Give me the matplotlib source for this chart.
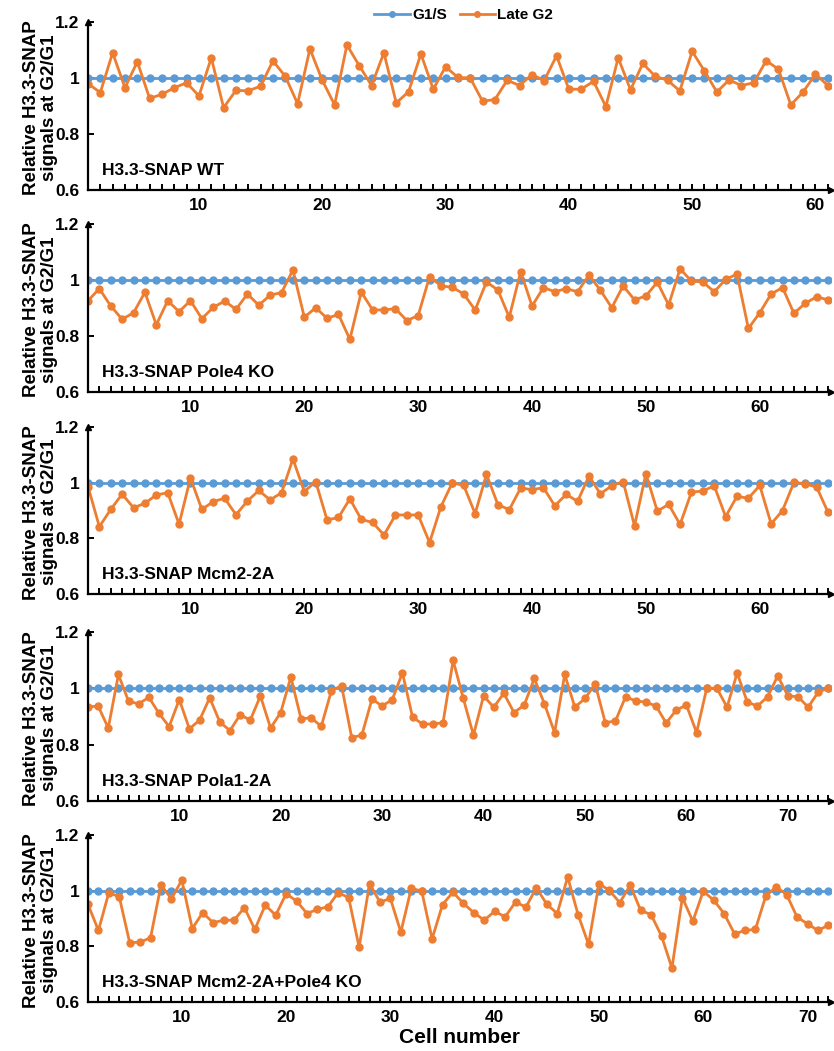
import matplotlib
matplotlib.use("Agg")
import matplotlib.pyplot as plt
import numpy as np
from matplotlib.ticker import MultipleLocator, FixedLocator

plt.rcParams['font.family'] = ['Liberation Sans', 'DejaVu Sans']
plt.rcParams['font.weight'] = 'bold'

BLUE = '#5B9BD5'
ORANGE = '#ED7D31'

# Late G2 relative signals per cell (G1/S normalised to 1)
wt = [0.980, 0.948, 1.090, 0.965, 1.058, 0.927, 0.942, 0.965, 0.983, 0.936,
      1.072, 0.894, 0.956, 0.954, 0.971, 1.061, 1.006, 0.908, 1.104, 0.992,
      0.904, 1.118, 1.044, 0.973, 1.090, 0.911, 0.951, 1.086, 0.960, 1.040,
      1.002, 1.000, 0.917, 0.923, 0.992, 0.973, 1.012, 0.991, 1.079, 0.960,
      0.960, 0.988, 0.898, 1.072, 0.958, 1.052, 1.006, 0.992, 0.954, 1.095,
      1.025, 0.950, 0.993, 0.973, 0.983, 1.062, 1.031, 0.904, 0.950, 1.014,
      0.973]

pole4_ko = [0.926, 0.969, 0.907, 0.860, 0.883, 0.956, 0.840, 0.926, 0.887, 0.926,
            0.862, 0.902, 0.925, 0.895, 0.950, 0.910, 0.946, 0.955, 1.036, 0.867,
            0.901, 0.863, 0.877, 0.788, 0.957, 0.893, 0.893, 0.898, 0.855, 0.873,
            1.012, 0.979, 0.974, 0.950, 0.893, 0.993, 0.964, 0.867, 1.030, 0.907,
            0.973, 0.958, 0.969, 0.958, 1.017, 0.964, 0.901, 0.979, 0.929, 0.943,
            0.992, 0.911, 1.040, 0.996, 0.993, 0.958, 1.002, 1.021, 0.827, 0.883,
            0.950, 0.973, 0.881, 0.917, 0.940, 0.929]

mcm2_2a = [0.986, 0.842, 0.904, 0.959, 0.910, 0.926, 0.956, 0.964, 0.851, 1.017,
           0.904, 0.932, 0.944, 0.885, 0.934, 0.972, 0.938, 0.964, 1.085, 0.968,
           1.004, 0.866, 0.875, 0.942, 0.868, 0.857, 0.812, 0.884, 0.884, 0.884,
           0.785, 0.914, 1.000, 0.990, 0.889, 1.030, 0.921, 0.903, 0.981, 0.975,
           0.982, 0.917, 0.958, 0.933, 1.024, 0.960, 0.989, 1.004, 0.845, 1.032,
           0.898, 0.922, 0.850, 0.966, 0.970, 0.989, 0.878, 0.951, 0.944, 0.990,
           0.852, 0.900, 1.001, 0.996, 0.984, 0.893]

pola1_2a = [0.934, 0.937, 0.859, 1.049, 0.954, 0.945, 0.968, 0.911, 0.864, 0.960,
            0.856, 0.887, 0.966, 0.880, 0.850, 0.906, 0.887, 0.973, 0.859, 0.914,
            1.040, 0.892, 0.895, 0.865, 0.992, 1.009, 0.825, 0.834, 0.962, 0.937,
            0.960, 1.055, 0.897, 0.873, 0.873, 0.878, 1.099, 0.964, 0.834, 0.973,
            0.933, 0.982, 0.914, 0.940, 1.035, 0.945, 0.843, 1.049, 0.933, 0.964,
            1.015, 0.878, 0.884, 0.970, 0.955, 0.951, 0.937, 0.877, 0.923, 0.940,
            0.843, 1.000, 1.000, 0.933, 1.054, 0.951, 0.937, 0.970, 1.044, 0.973,
            0.970, 0.933, 0.987, 1.000]

mcm2_pole4 = [0.951, 0.857, 0.993, 0.978, 0.813, 0.815, 0.831, 1.020, 0.971, 1.038,
              0.864, 0.921, 0.885, 0.894, 0.894, 0.939, 0.861, 0.948, 0.912, 0.989,
              0.963, 0.918, 0.933, 0.942, 0.993, 0.975, 0.797, 1.025, 0.959, 0.972,
              0.851, 1.008, 0.999, 0.827, 0.950, 0.995, 0.954, 0.921, 0.894, 0.926,
              0.906, 0.959, 0.941, 1.011, 0.951, 0.918, 1.049, 0.914, 0.807, 1.025,
              1.001, 0.957, 1.020, 0.929, 0.914, 0.837, 0.722, 0.975, 0.890, 0.998,
              0.966, 0.918, 0.845, 0.857, 0.861, 0.981, 1.014, 0.986, 0.905, 0.881,
              0.857, 0.876]

panels = [wt, pole4_ko, mcm2_2a, pola1_2a, mcm2_pole4]
names = ['H3.3-SNAP WT', 'H3.3-SNAP Pole4 KO', 'H3.3-SNAP Mcm2-2A',
         'H3.3-SNAP Pola1-2A', 'H3.3-SNAP Mcm2-2A+Pole4 KO']

# axes rectangles in figure fractions (bottom, top)
rows = [(0.8192, 0.9791), (0.627, 0.7869), (0.4348, 0.5937),
        (0.2379, 0.3987), (0.0466, 0.2055)]

fig = plt.figure(figsize=(8.34, 10.51), dpi=100)

for i, (vals, name, (b, t)) in enumerate(zip(panels, names, rows)):
    ax = fig.add_axes([0.1055, b, 0.8915, t - b])
    cells = np.arange(1, len(vals) + 1)
    ax.plot(cells, np.ones(len(vals)), '-o', color=BLUE, lw=2, ms=5, label='G1/S')
    ax.plot(cells, vals, '-o', color=ORANGE, lw=2, ms=5, label='Late G2')
    ax.set_xlim(1, len(vals) + 0.3)
    ax.set_ylim(0.6, 1.2)
    ax.spines['top'].set_visible(False)
    ax.spines['right'].set_visible(False)
    for s in ['left', 'bottom']:
        ax.spines[s].set_linewidth(1.6)
    ax.xaxis.set_major_locator(FixedLocator(range(10, len(vals) + 1, 10)))
    ax.xaxis.set_minor_locator(MultipleLocator(1))
    ax.yaxis.set_major_locator(FixedLocator([0.6, 0.8, 1.0, 1.2]))
    ax.set_yticklabels(['0.6', '0.8', '1', '1.2'])
    ax.tick_params(axis='both', which='both', direction='in', length=4, width=1.4,
                   labelsize=12.5)
    ax.tick_params(axis='x', pad=6)
    ax.tick_params(axis='y', pad=6)
    ax.plot(1, 0, '>k', ms=5, transform=ax.transAxes, clip_on=False)
    ax.plot(0, 1, '^k', ms=4, transform=ax.transAxes, clip_on=False)
    ax.text(0.019, 0.09, name, transform=ax.transAxes, fontsize=12.5,
            fontweight='bold', ha='left', va='baseline')
    ax.set_ylabel('Relative H3.3-SNAP\nsignals at G2/G1', fontsize=13.5,
                  fontweight='bold', linespacing=1.05)
    ax.yaxis.set_label_coords(-0.041, 0.49)
    if i == 0:
        handles, labels = ax.get_legend_handles_labels()
    if i == 4:
        ax.set_xlabel('Cell number', fontsize=15, fontweight='bold', labelpad=2)

fig.legend(handles, labels, loc='center', ncol=2, frameon=False,
           bbox_to_anchor=(0.556, 0.9857), prop={'size': 11, 'weight': 'bold'},
           handlelength=2.3, columnspacing=0.85, handletextpad=0.15,
           markerscale=0.8, borderpad=0)

fig.savefig('out.png', dpi=100)
